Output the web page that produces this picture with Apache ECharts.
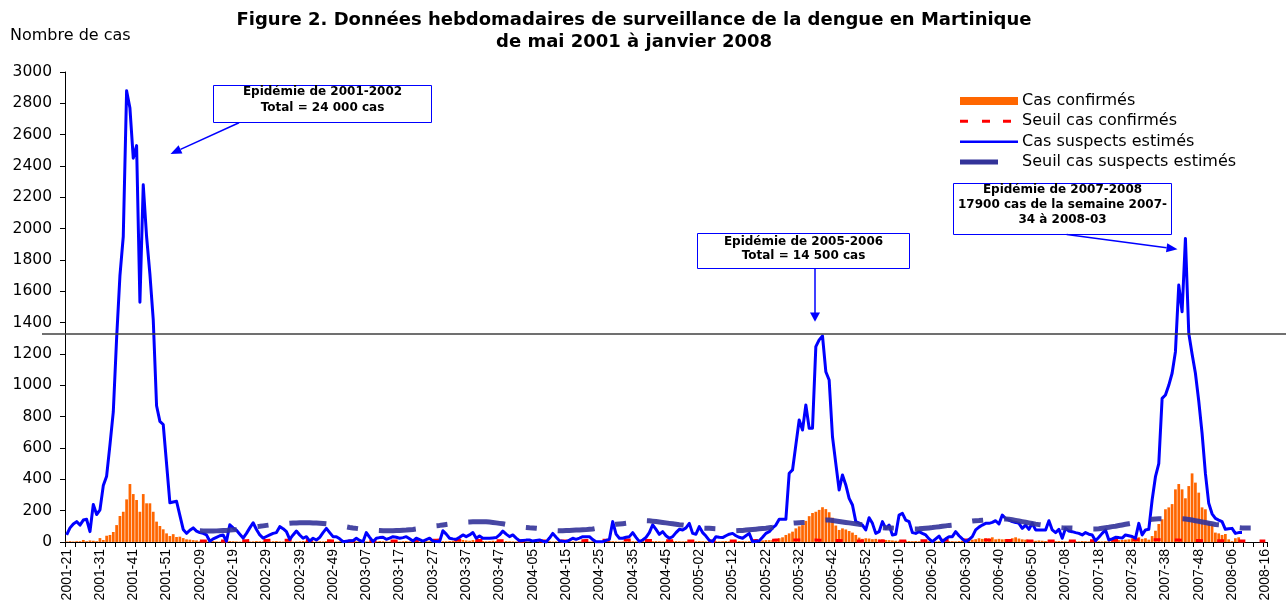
<!DOCTYPE html>
<html>
  <head>
    <meta charset="utf-8" />
    <style>
      body {margin: 0; background: #fff;}
      #chart {width: 1286px; height: 603px;}
    </style>
    <script src="https://cdn.jsdelivr.net/npm/echarts@6.0.0/dist/echarts.min.js"></script>
  </head>
  <body>
    <div id="chart"></div>
    <script type="text/javascript">
      // weeks shown on the axis: [year, first week, last week]
      var yearWeeks = [[2001, 21, 52], [2002, 1, 52], [2003, 1, 52], [2004, 1, 53],
                       [2005, 1, 52], [2006, 1, 52], [2007, 1, 52], [2008, 1, 16]];
      var seuilStart = '2002-09';

      // Cas suspects estimés (from 2001-21)
      var suspects2001 = [45, 90, 115, 130, 108, 140, 145, 66, 240, 175, 205, 360, 420, 620, 830, 1300,
                          1700, 1950, 2880, 2770, 2450, 2530, 1530, 2280, 1950, 1710, 1420, 870, 770, 750, 500, 250];
      var suspects2002 = [255, 260, 170, 80, 55, 75, 90, 70, 60, 55, 45, 5, 20, 30, 40, 45, 5, 110, 90, 75,
                          50, 25, 55, 90, 123, 80, 45, 25, 35, 45, 55, 60, 98, 85, 66, 17, 45, 70, 45, 24,
                          34, 6, 24, 13, 30, 60, 87, 60, 34, 34, 20, 2];
      var suspects2003 = [5, 8, 8, 24, 10, 2, 60, 30, 2, 24, 28, 30, 17, 25, 34, 30, 24, 28, 34, 20,
                          6, 24, 15, 6, 15, 24, 6, 4, 2, 72, 50, 24, 20, 17, 30, 45, 34, 45, 60, 24,
                          38, 24, 24, 24, 26, 28, 45, 70, 50, 34, 45, 25];
      var suspects2004 = [8, 10, 12, 13, 6, 10, 13, 5, 0, 25, 55, 30, 8, 5, 2, 12, 24, 17, 25, 34,
                          34, 34, 15, 2, 2, 2, 10, 17, 130, 50, 24, 24, 30, 34, 60, 30, 2, 13, 30, 60,
                          110, 80, 49, 66, 40, 24, 34, 60, 81, 77, 90, 119, 55];
      var suspects2005 = [50, 98, 60, 38, 10, 2, 34, 30, 28, 40, 50, 55, 40, 30, 24, 40, 55, 2, 5, 8,
                          30, 55, 66, 90, 108, 145, 145, 145, 439, 460, 620, 779, 715, 875, 726, 726, 1247, 1290, 1315, 1087,
                          1034, 672, 500, 332, 428, 364, 279, 236, 130, 120, 108, 77];
      var suspects2006 = [155, 119, 55, 66, 130, 87, 108, 45, 50, 172, 183, 140, 130, 60, 55, 66, 55, 45, 20, 2,
                          20, 38, 2, 20, 34, 34, 66, 40, 20, 2, 15, 34, 77, 95, 108, 119, 119, 125, 136, 115,
                          172, 150, 140, 130, 125, 119, 87, 108, 81, 119, 77, 77];
      var suspects2007 = [77, 77, 136, 77, 60, 81, 24, 87, 70, 66, 60, 55, 45, 60, 50, 45, 8, 30, 55, 77,
                          13, 20, 30, 28, 25, 45, 40, 35, 24, 119, 45, 77, 81, 268, 417, 500, 917, 938, 1000, 1077,
                          1215, 1640, 1470, 1938, 1332, 1200, 1077, 900, 694, 438, 247, 180];
      var suspects2008 = [151, 140, 130, 81, 85, 87, 55, 60, 60];

      // Cas confirmés (from 2001-21)
      var confirmes2001 = [3, 5, 3, 5, 5, 13, 5, 10, 8, 5, 25, 13, 40, 45, 64, 108,
                           166, 193, 272, 370, 306, 268, 193, 306, 247, 247, 193, 130, 102, 81, 55, 38];
      var confirmes2002 = [50, 32, 34, 25, 17, 15, 12, 10, 5, 6, 4, 5, 6, 4, 3, 5, 4, 6, 5, 4,
                           3, 4, 5, 3, 4, 6, 5, 4, 3, 4, 5, 6, 4, 3, 5, 4, 3, 4, 5, 6,
                           5, 4, 3, 4, 5, 4, 6, 5, 4, 3, 5, 4];
      var confirmes2003 = [4, 5, 3, 4, 6, 5, 4, 3, 5, 4, 6, 5, 4, 3, 5, 4, 3, 5, 6, 4,
                           5, 4, 3, 5, 6, 5, 4, 5, 6, 5, 5, 6, 8, 10, 12, 13, 10, 8, 12, 10,
                           8, 6, 5, 6, 8, 6, 5, 4, 6, 5, 4, 3];
      var confirmes2004 = [4, 3, 5, 4, 3, 4, 5, 3, 4, 5, 3, 4, 5, 4, 3, 5, 4, 3, 4, 5,
                           4, 3, 5, 4, 3, 4, 5, 6, 5, 4, 3, 4, 5, 6, 5, 4, 5, 6, 5, 4,
                           5, 6, 5, 4, 5, 6, 7, 6, 5, 4, 5, 6, 7];
      var confirmes2005 = [5, 6, 5, 4, 5, 6, 5, 4, 5, 6, 5, 4, 5, 6, 5, 4, 5, 6, 8, 8,
                           10, 12, 12, 12, 15, 24, 30, 45, 55, 66, 87, 100, 108, 135, 165, 185, 193, 205, 222, 210,
                           190, 155, 105, 77, 87, 80, 70, 60, 45, 28, 20, 24];
      var confirmes2006 = [22, 18, 20, 15, 17, 13, 12, 10, 8, 8, 10, 8, 6, 5, 6, 5, 4, 5, 6, 5,
                           4, 5, 4, 5, 6, 5, 4, 6, 8, 10, 12, 15, 18, 24, 20, 24, 22, 30, 17, 20,
                           17, 18, 17, 24, 30, 22, 17, 15, 12, 10, 8, 10];
      var confirmes2007 = [8, 6, 5, 6, 5, 6, 5, 4, 5, 6, 5, 4, 6, 5, 4, 5, 6, 5, 4, 5,
                           6, 8, 10, 12, 13, 15, 17, 24, 22, 30, 20, 24, 15, 38, 72, 115, 145, 209, 221, 242,
                           336, 370, 336, 279, 357, 438, 379, 315, 221, 209, 130, 115];
      var confirmes2008 = [60, 55, 45, 51, 17, 5, 24, 30];

      // Seuil cas suspects estimés (from 2002-09)
      var seuilSusp2002 = [72, 71, 70, 70, 70, 71, 72, 73, 74, 76, 78, 80, 83, 86, 89, 92, 95, 98, 100, 103,
                           106, 109, 111, 113, 115, 117, 118, 120, 121, 122, 123, 123, 123, 123, 122, 121, 120, 118, 116, 113,
                           110, 107, 104, 100];
      var seuilSusp2003 = [97, 93, 90, 87, 84, 81, 79, 77, 75, 74, 73, 72, 72, 72, 72, 73, 74, 75, 76, 78,
                           80, 83, 86, 90, 94, 98, 101, 104, 106, 109, 112, 115, 118, 121, 123, 125, 127, 128, 129, 130,
                           130, 130, 129, 127, 125, 122, 119, 116, 112, 108, 104, 100];
      var seuilSusp2004 = [97, 95, 93, 91, 90, 88, 86, 83, 80, 77, 75, 73, 72, 72, 73, 74, 75, 76, 77, 78,
                           79, 81, 83, 87, 92, 97, 102, 106, 110, 113, 115, 117, 119, 122, 126, 130, 133, 135, 136, 135,
                           133, 131, 128, 125, 122, 119, 116, 113, 110, 108, 105, 100, 96];
      var seuilSusp2005 = [93, 91, 89, 88, 87, 86, 85, 83, 81, 78, 76, 74, 72, 73, 74, 76, 78, 80, 82, 84,
                           86, 88, 91, 94, 98, 103, 108, 112, 116, 120, 122, 123, 124, 125, 128, 132, 135, 138, 140, 141,
                           140, 137, 134, 131, 128, 125, 122, 119, 116, 113, 110, 105];
      var seuilSusp2006 = [100, 97, 95, 93, 91, 90, 89, 89, 88, 87, 86, 85, 84, 83, 83, 84, 86, 88, 90, 92,
                           95, 97, 100, 103, 106, 108, 112, 117, 122, 127, 131, 134, 136, 137, 139, 141, 143, 145, 146, 147,
                           147, 147, 145, 142, 138, 134, 130, 126, 122, 118, 114, 111];
      var seuilSusp2007 = [108, 104, 100, 97, 95, 93, 91, 90, 89, 89, 88, 87, 86, 85, 84, 83, 83, 85, 88, 91,
                           94, 98, 101, 105, 109, 113, 117, 121, 126, 131, 136, 140, 143, 145, 147, 148, 148, 148, 148, 148,
                           148, 148, 148, 147, 144, 140, 136, 132, 128, 124, 120, 116];
      var seuilSusp2008 = [112, 110, 108, 104, 100, 97, 94, 92, 90, 89, 89, 89, 89, 88, 88, 88];

      // Seuil cas confirmés (from 2002-09)
      var seuilConf2002 = [6, 6, 6, 6, 6, 6, 6, 6, 6, 7, 7, 7, 8, 8, 8, 9, 9, 9, 10, 10,
                           10, 11, 11, 11, 11, 11, 11, 11, 11, 11, 10, 10, 10, 9, 9, 9, 8, 8, 8, 8,
                           7, 7, 7, 7];
      var seuilConf2003 = [7, 7, 6, 6, 6, 6, 6, 6, 6, 6, 6, 6, 6, 6, 7, 7, 7, 8, 8, 8,
                           9, 9, 10, 10, 10, 11, 11, 11, 12, 12, 12, 12, 12, 12, 12, 11, 11, 11, 10, 10,
                           10, 9, 9, 9, 8, 8, 8, 8, 7, 7, 7, 7];
      var seuilConf2004 = [7, 7, 7, 6, 6, 6, 6, 6, 6, 6, 6, 6, 6, 6, 7, 7, 7, 8, 8, 8,
                           9, 9, 10, 10, 10, 11, 11, 11, 12, 12, 12, 12, 12, 12, 12, 11, 11, 11, 10, 10,
                           10, 9, 9, 9, 8, 8, 8, 8, 7, 7, 7, 7, 7];
      var seuilConf2005 = [7, 7, 7, 6, 6, 6, 6, 6, 6, 6, 6, 6, 6, 7, 7, 7, 8, 8, 9, 9,
                           10, 10, 11, 11, 12, 12, 12, 13, 13, 13, 13, 13, 13, 13, 12, 12, 12, 11, 11, 10,
                           10, 9, 9, 9, 8, 8, 8, 8, 7, 7, 7, 7];
      var seuilConf2006 = [7, 7, 7, 6, 6, 6, 6, 6, 6, 6, 6, 6, 6, 7, 7, 7, 8, 8, 9, 9,
                           10, 10, 11, 11, 12, 12, 12, 13, 13, 13, 13, 13, 13, 13, 12, 12, 12, 11, 11, 10,
                           10, 9, 9, 9, 8, 8, 8, 8, 7, 7, 7, 7];
      var seuilConf2007 = [7, 7, 7, 7, 7, 6, 6, 6, 6, 6, 6, 6, 7, 7, 7, 8, 8, 9, 9, 10,
                           10, 11, 11, 12, 12, 13, 13, 14, 14, 15, 15, 15, 15, 15, 15, 15, 14, 14, 13, 13,
                           12, 12, 11, 11, 10, 10, 9, 9, 8, 8, 8, 8];
      var seuilConf2008 = [8, 8, 8, 7, 7, 7, 7, 7, 7, 7, 6, 6, 6, 6, 6, 6];

      /*--------------*/
      var weeks = [];
      yearWeeks.forEach(function (y) {
        for (var w = y[1]; w <= y[2]; w++) {
          weeks.push(y[0] + '-' + (w < 10 ? '0' + w : w));
        }
      });
      var pad = [];
      for (var k = 0; k < weeks.indexOf(seuilStart); k++) pad.push(null);

      var suspects = [].concat(suspects2001, suspects2002, suspects2003, suspects2004,
                               suspects2005, suspects2006, suspects2007, suspects2008);
      var confirmes = [].concat(confirmes2001, confirmes2002, confirmes2003, confirmes2004,
                                confirmes2005, confirmes2006, confirmes2007, confirmes2008);
      var seuilSusp = pad.concat(seuilSusp2002, seuilSusp2003, seuilSusp2004, seuilSusp2005,
                                 seuilSusp2006, seuilSusp2007, seuilSusp2008);
      var seuilConf = pad.concat(seuilConf2002, seuilConf2003, seuilConf2004, seuilConf2005,
                                 seuilConf2006, seuilConf2007, seuilConf2008);

      var chart = echarts.init(document.getElementById('chart'));
      var boxFont = {fill: '#000', fontSize: 12, fontWeight: 'bold', fontFamily: 'DejaVu Sans',
                     align: 'center', textAlign: 'center', verticalAlign: 'middle', textVerticalAlign: 'middle'};
      var blue = '#0000FF';

      var option = {
        animation: false,
        textStyle: {fontFamily: 'DejaVu Sans'},
        title: {
          text: 'Figure 2. Données hebdomadaires de surveillance de la dengue en Martinique\nde mai 2001 à janvier 2008',
          left: 634,
          top: 9,
          textAlign: 'center',
          padding: 0,
          textStyle: {fontSize: 18, fontWeight: 'bold', color: '#000', fontFamily: 'DejaVu Sans', lineHeight: 22}
        },
        legend: {
          orient: 'vertical',
          left: 960,
          top: 93,
          padding: 0,
          itemWidth: 58,
          itemHeight: 12,
          itemGap: 4.3,
          selectedMode: false,
          textStyle: {fontSize: 16, lineHeight: 16, color: '#000', fontFamily: 'DejaVu Sans', padding: [0, 0, 0, -1]},
          data: [
            {name: 'Cas confirmés', icon: 'path://M0,2H58V10H0Z M0,0L0,0 M58,12L58,12',
             itemStyle: {color: '#FF6600', borderWidth: 0}},
            {name: 'Seuil cas confirmés', icon: 'path://M0,4.5H8V7.5H0Z M22,4.5H30V7.5H22Z M43,4.5H51V7.5H43Z M0,0L0,0 M58,12L58,12',
             itemStyle: {color: '#FF0000', borderWidth: 0}},
            {name: 'Cas suspects estimés', icon: 'path://M0,4.8H58V7.5H0Z M0,0L0,0 M58,12L58,12',
             itemStyle: {color: blue, borderWidth: 0}},
            {name: 'Seuil cas suspects estimés', icon: 'path://M0,3.5H38V8.5H0Z M0,0L0,0 M58,12L58,12',
             itemStyle: {color: '#333399', borderWidth: 0}}
          ]
        },
        grid: {left: 65, right: 19, top: 72, bottom: 61, containLabel: false, outerBoundsMode: 'none'},
        xAxis: {
          type: 'category',
          data: weeks,
          boundaryGap: true,
          axisLine: {show: true, lineStyle: {color: '#000', width: 1}},
          axisTick: {show: true, interval: 2, length: 5, lineStyle: {color: '#000'}},
          axisLabel: {interval: 9, rotate: 90, margin: 7, fontSize: 14, color: '#000', fontFamily: 'Liberation Sans'},
          splitLine: {show: false}
        },
        yAxis: {
          type: 'value',
          min: 0,
          max: 3000,
          interval: 200,
          axisLine: {show: true, lineStyle: {color: '#000', width: 1}},
          axisTick: {show: true, length: 5, lineStyle: {color: '#000'}},
          axisLabel: {fontSize: 15.5, color: '#000', margin: 13, fontFamily: 'DejaVu Sans',
                      formatter: function (v) { return String(v); }},
          splitLine: {show: false}
        },
        series: [
          {
            name: 'Cas confirmés',
            type: 'bar',
            data: confirmes,
            barCategoryGap: '18%',
            itemStyle: {color: '#FF6600'}
          },
          {
            name: 'Seuil cas confirmés',
            type: 'line',
            data: seuilConf,
            symbol: 'none',
            lineStyle: {color: '#FF0000', width: 3, type: [7, 14.2]},
            itemStyle: {color: '#FF0000'}
          },
          {
            name: 'Cas suspects estimés',
            type: 'line',
            data: suspects,
            symbol: 'none',
            lineStyle: {color: blue, width: 3, join: 'round'},
            itemStyle: {color: blue}
          },
          {
            name: 'Seuil cas suspects estimés',
            type: 'line',
            data: seuilSusp,
            symbol: 'none',
            lineStyle: {color: '#333399', width: 5, type: [37, 21, 11, 21], opacity: 0.9},
            itemStyle: {color: '#333399'}
          }
        ],
        graphic: [
          {type: 'text', left: 10, top: 28, style: {text: 'Nombre de cas', fill: '#000', fontSize: 16, fontFamily: 'DejaVu Sans'}},
          {type: 'line', z: 50, shape: {x1: 42, y1: 334, x2: 1286, y2: 334}, style: {stroke: '#404040', lineWidth: 1.5}},
          // annotation 2001-2002
          {type: 'rect', z: 100, shape: {x: 213.5, y: 85.5, width: 218, height: 37}, style: {fill: '#fff', stroke: blue, lineWidth: 1}},
          {type: 'text', z: 101, x: 322.5, y: 100, style: Object.assign({text: 'Epidémie de 2001-2002\nTotal = 24 000 cas', lineHeight: 16}, boxFont)},
          {type: 'polyline', z: 100, shape: {points: [[239, 122.7], [180.5, 149.4]]}, style: {stroke: blue, lineWidth: 1.5}},
          {type: 'polygon', z: 100, shape: {points: [[170.5, 154], [182.4, 153.5], [178.6, 145.3]]}, style: {fill: blue}},
          // annotation 2005-2006
          {type: 'rect', z: 100, shape: {x: 697.5, y: 233.5, width: 212, height: 35}, style: {fill: '#fff', stroke: blue, lineWidth: 1}},
          {type: 'text', z: 101, x: 803.5, y: 249, style: Object.assign({text: 'Epidémie de 2005-2006\nTotal = 14 500 cas', lineHeight: 14.5}, boxFont)},
          {type: 'polyline', z: 100, shape: {points: [[815, 268.5], [815, 314]]}, style: {stroke: blue, lineWidth: 1.5}},
          {type: 'polygon', z: 100, shape: {points: [[815, 321.7], [810, 312.5], [820, 312.5]]}, style: {fill: blue}},
          // annotation 2007-2008
          {type: 'rect', z: 100, shape: {x: 953.5, y: 183.5, width: 218, height: 51}, style: {fill: '#fff', stroke: blue, lineWidth: 1}},
          {type: 'text', z: 101, x: 1062.5, y: 205, style: Object.assign({text: 'Epidémie de 2007-2008\n17900 cas de la semaine 2007-\n34 à 2008-03', lineHeight: 15}, boxFont)},
          {type: 'polyline', z: 100, shape: {points: [[1066.7, 234.5], [1166.6, 247.7]]}, style: {stroke: blue, lineWidth: 1.5}},
          {type: 'polygon', z: 100, shape: {points: [[1177.5, 249.3], [1166, 252.2], [1167.2, 243.3]]}, style: {fill: blue}}
        ]
      };

      chart.setOption(option);
    </script>
  </body>
</html>
